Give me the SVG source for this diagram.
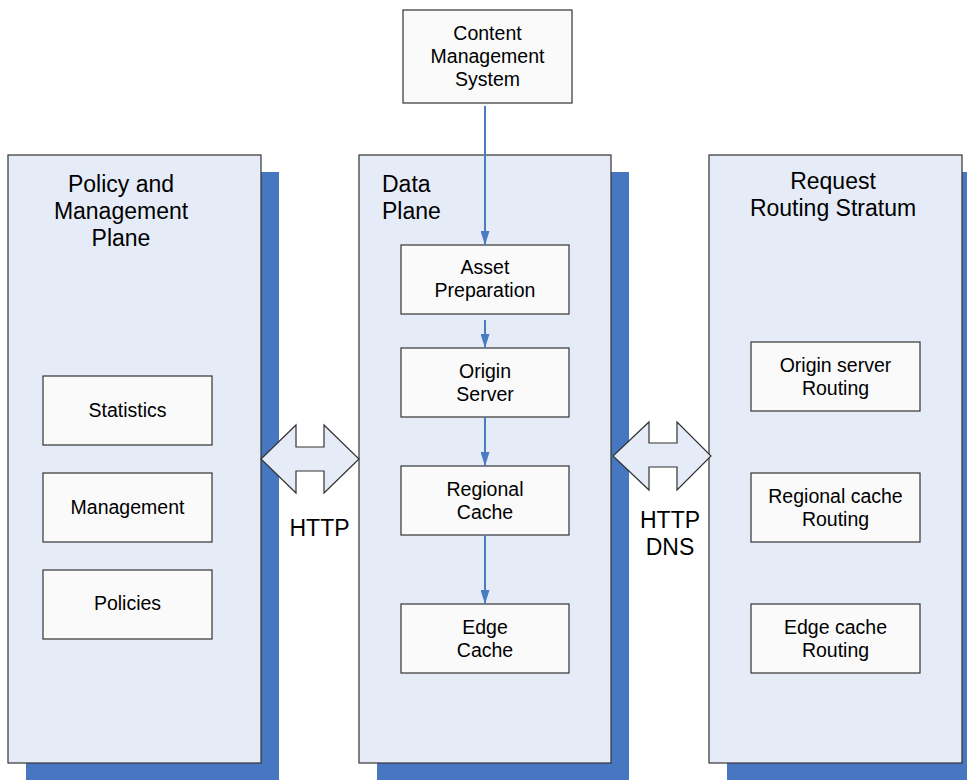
<svg xmlns="http://www.w3.org/2000/svg" width="967" height="780" viewBox="0 0 967 780">
  <style>
    .shadow { fill: #4777c0; }
    .panel { fill: #e6ecf7; stroke: #333; stroke-width: 1.2; }
    .box { fill: #fafafa; stroke: #333; stroke-width: 1.2; }
    .dbl { fill: #e6ecf7; stroke: #333; stroke-width: 1.2; stroke-linejoin: miter; }
    .title { font-family: "Liberation Sans", Arial, sans-serif; font-size: 23px; fill: #000; }
    .lbl { font-family: "Liberation Sans", Arial, sans-serif; font-size: 19.5px; fill: #000; text-anchor: middle; }
    .proto { font-family: "Liberation Sans", Arial, sans-serif; font-size: 23px; fill: #000; text-anchor: middle; }
    .flow { stroke: #4a7cc4; stroke-width: 2; fill: none; marker-end: url(#head); }
  </style>
  <defs>
    <marker id="head" viewBox="0 0 14 9" refX="14" refY="4.5" markerWidth="14" markerHeight="9" markerUnits="userSpaceOnUse" orient="auto">
      <path d="M0,0 L14,4.5 L0,9 Z" fill="#4a7cc4"/>
    </marker>
  </defs>

  <rect width="967" height="780" fill="#fff"/>

  <!-- Policy and Management Plane -->
  <g id="policy-plane">
    <rect class="shadow" x="26" y="172" width="253" height="620"/>
    <rect class="panel" x="8" y="155" width="253" height="608"/>
    <text class="title" text-anchor="middle" x="121" y="192">Policy and</text>
    <text class="title" text-anchor="middle" x="121" y="219">Management</text>
    <text class="title" text-anchor="middle" x="121" y="246">Plane</text>
  </g>
  <g id="statistics">
    <rect class="box" x="43" y="376" width="169" height="69"/>
    <text class="lbl" x="127.5" y="417">Statistics</text>
  </g>
  <g id="management">
    <rect class="box" x="43" y="473" width="169" height="69"/>
    <text class="lbl" x="127.5" y="514">Management</text>
  </g>
  <g id="policies">
    <rect class="box" x="43" y="570" width="169" height="69"/>
    <text class="lbl" x="127.5" y="610">Policies</text>
  </g>

  <!-- Data Plane -->
  <g id="data-plane">
    <rect class="shadow" x="377" y="172" width="252" height="620"/>
    <rect class="panel" x="359" y="155" width="252" height="608"/>
    <text class="title" x="382" y="192">Data</text>
    <text class="title" x="382" y="219">Plane</text>
  </g>
  <g id="cms">
    <rect class="box" x="403" y="10" width="169" height="93"/>
    <text class="lbl" x="487.5" y="40">Content</text>
    <text class="lbl" x="487.5" y="63">Management</text>
    <text class="lbl" x="487.5" y="86">System</text>
  </g>
  <g id="asset-preparation">
    <rect class="box" x="401" y="245" width="168" height="69"/>
    <text class="lbl" x="485" y="274">Asset</text>
    <text class="lbl" x="485" y="297">Preparation</text>
  </g>
  <g id="origin-server">
    <rect class="box" x="401" y="348" width="168" height="69"/>
    <text class="lbl" x="485" y="378">Origin</text>
    <text class="lbl" x="485" y="401">Server</text>
  </g>
  <g id="regional-cache">
    <rect class="box" x="401" y="466" width="168" height="69"/>
    <text class="lbl" x="485" y="496">Regional</text>
    <text class="lbl" x="485" y="519">Cache</text>
  </g>
  <g id="edge-cache">
    <rect class="box" x="401" y="604" width="168" height="69"/>
    <text class="lbl" x="485" y="634">Edge</text>
    <text class="lbl" x="485" y="657">Cache</text>
  </g>

  <!-- Request Routing Stratum -->
  <g id="routing-stratum">
    <rect class="shadow" x="727" y="172" width="253" height="620"/>
    <rect class="panel" x="709" y="155" width="253" height="608"/>
    <text class="title" text-anchor="middle" x="833" y="189">Request</text>
    <text class="title" text-anchor="middle" x="833" y="216">Routing Stratum</text>
  </g>
  <g id="origin-routing">
    <rect class="box" x="751" y="342" width="169" height="69"/>
    <text class="lbl" x="835.5" y="372">Origin server</text>
    <text class="lbl" x="835.5" y="395">Routing</text>
  </g>
  <g id="regional-routing">
    <rect class="box" x="751" y="473" width="169" height="69"/>
    <text class="lbl" x="835.5" y="503">Regional cache</text>
    <text class="lbl" x="835.5" y="526">Routing</text>
  </g>
  <g id="edge-routing">
    <rect class="box" x="751" y="604" width="169" height="69"/>
    <text class="lbl" x="835.5" y="634">Edge cache</text>
    <text class="lbl" x="835.5" y="657">Routing</text>
  </g>

  <!-- Connectors -->
  <g id="connectors">
    <line class="flow" x1="485" y1="106" x2="485" y2="245"/>
    <line class="flow" x1="485" y1="320" x2="485" y2="348"/>
    <line class="flow" x1="485" y1="417" x2="485" y2="466"/>
    <line class="flow" x1="485" y1="535" x2="485" y2="604"/>

    <!-- interface between policy plane and data plane -->
    <path class="dbl" d="M261,459 L296,425 L296,447 L324,447 L324,425 L359,459 L324,493 L324,471 L296,471 L296,493 Z"/>
    <text class="proto" x="319.5" y="536">HTTP</text>

    <!-- interface between data plane and routing stratum -->
    <path class="dbl" d="M613,456 L649,422 L649,443 L677,443 L677,422 L711,456 L677,490 L677,467 L649,467 L649,490 Z"/>
    <text class="proto" x="670" y="528">HTTP</text>
    <text class="proto" x="670" y="555">DNS</text>
  </g>
</svg>
